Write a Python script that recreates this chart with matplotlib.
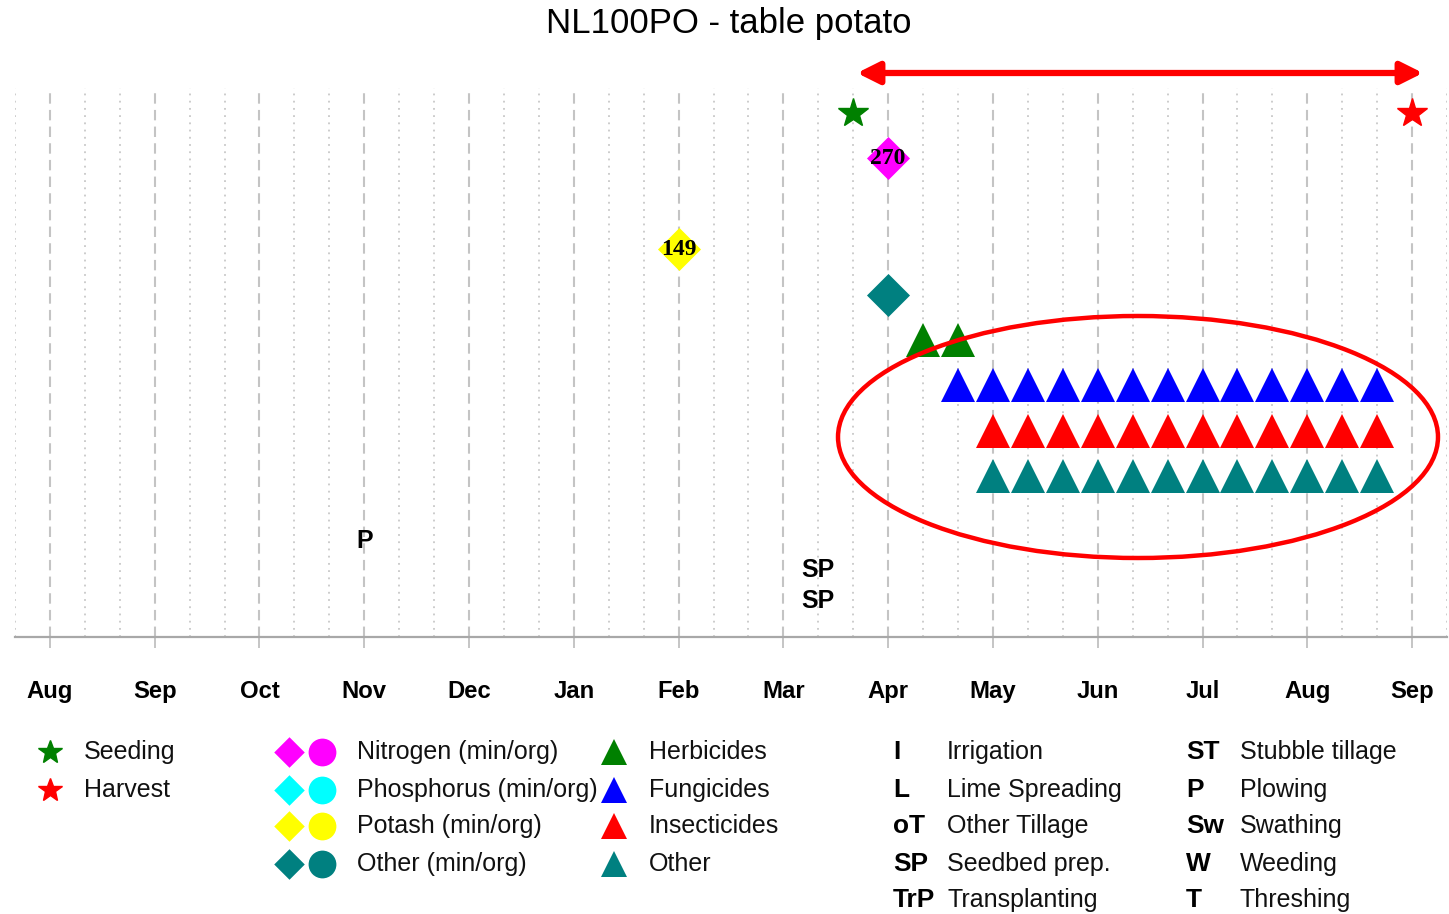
import matplotlib
matplotlib.use("Agg")
import matplotlib.pyplot as plt
from matplotlib import font_manager
from matplotlib.patches import Ellipse, FancyArrowPatch

W, H = 1449, 914

# ---- data -------------------------------------------------------------
# x axis is in decades (3 per month), month index 0 = Aug of the sowing year
months = ['Aug', 'Sep', 'Oct', 'Nov', 'Dec', 'Jan', 'Feb', 'Mar',
          'Apr', 'May', 'Jun', 'Jul', 'Aug', 'Sep']

# rows (top to bottom)
row_crop = 1
row_nitrogen = 2
row_potash = 4
row_other_fert = 5
row_herb = 6
row_fung = 7
row_insect = 8
row_other_pest = 9

seeding_x = [23]          # Mar, 3rd decade
harvest_x = [39]          # Sep, 1st decade
nitrogen_x = [24]
nitrogen_val = [270]
potash_x = [18]
potash_val = [149]
other_fert_x = [24]
herbicide_x = [25, 26]
fungicide_x = [26, 27, 28, 29, 30, 31, 32, 33, 34, 35, 36, 37, 38]
insecticide_x = [27, 28, 29, 30, 31, 32, 33, 34, 35, 36, 37, 38]
other_pest_x = [27, 28, 29, 30, 31, 32, 33, 34, 35, 36, 37, 38]

ops_label = ['P', 'SP', 'SP']
ops_x = [9, 22, 22]
ops_y = [10.43, 11.07, 11.75]

# ---- fonts ------------------------------------------------------------
names = {f.name for f in font_manager.fontManager.ttflist}
narrow = 'Liberation Sans Narrow' if 'Liberation Sans Narrow' in names else 'Liberation Sans'
nscale = 1.0 if narrow == 'Liberation Sans Narrow' else 0.82

GREEN, BLUE, RED, TEAL = '#008000', '#0000ff', '#ff0000', '#008080'
MAGENTA, CYAN, YELLOW = '#ff00ff', '#00ffff', '#ffff00'

diamond = [(0, 1), (1, 0), (0, -1), (-1, 0), (0, 1)]

fig = plt.figure(figsize=(W / 100, H / 100), dpi=100)
fig.patch.set_facecolor('white')

left, right, top, bottom = 15, 1447, 88, 637
ax = fig.add_axes([left / W, 1 - bottom / H, (right - left) / W, (bottom - top) / H])
ax.set_xlim(-1, 40)
ax.set_ylim(12.54, 0.45)

# grid: dashed at month starts, dotted at decades
for x in range(-1, 41):
    if x % 3 == 0:
        ax.axvline(x, color='#c4c4c4', lw=1.5, ls=(0, (5, 3)), zorder=0)
    else:
        ax.axvline(x, color='#c8c8c8', lw=1.3, ls=(0, (1, 3)), zorder=0)

for s in ['top', 'left', 'right']:
    ax.spines[s].set_visible(False)
ax.spines['bottom'].set_color('#a8a8a8')
ax.spines['bottom'].set_linewidth(1.6)
ax.set_yticks([])
ax.set_xticks([3 * i for i in range(len(months))])
ax.set_xticklabels(months, fontfamily=narrow, fontweight='bold', fontsize=21 * nscale)
ax.tick_params(axis='x', length=8, width=1.3, color='#c0c0c0', pad=23)

# crop events
ax.plot(seeding_x, [row_crop] * len(seeding_x), ls='none', marker='*', ms=22,
        color=GREEN, mec=GREEN, zorder=3)
ax.plot(harvest_x, [row_crop] * len(harvest_x), ls='none', marker='*', ms=22,
        color=RED, mec=RED, zorder=3)

# fertilisers
ax.plot(nitrogen_x, [row_nitrogen] * len(nitrogen_x), ls='none', marker=diamond,
        ms=31, color=MAGENTA, mec=MAGENTA, mew=0, zorder=3)
for x, v in zip(nitrogen_x, nitrogen_val):
    ax.text(x, row_nitrogen, str(v), ha='center', va='center', fontsize=17,
            fontfamily='Liberation Serif', fontweight='bold', zorder=4)
ax.plot(potash_x, [row_potash] * len(potash_x), ls='none', marker=diamond,
        ms=31, color=YELLOW, mec=YELLOW, mew=0, zorder=3)
for x, v in zip(potash_x, potash_val):
    ax.text(x, row_potash, str(v), ha='center', va='center', fontsize=17,
            fontfamily='Liberation Serif', fontweight='bold', zorder=4)
ax.plot(other_fert_x, [row_other_fert] * len(other_fert_x), ls='none', marker=diamond,
        ms=31, color=TEAL, mec=TEAL, mew=0, zorder=3)

# pesticides
ax.plot(herbicide_x, [row_herb] * len(herbicide_x), ls='none', marker='^', ms=25,
        color=GREEN, mec=GREEN, mew=0, zorder=3)
ax.plot(fungicide_x, [row_fung] * len(fungicide_x), ls='none', marker='^', ms=25,
        color=BLUE, mec=BLUE, mew=0, zorder=3)
ax.plot(insecticide_x, [row_insect] * len(insecticide_x), ls='none', marker='^', ms=25,
        color=RED, mec=RED, mew=0, zorder=3)
ax.plot(other_pest_x, [row_other_pest] * len(other_pest_x), ls='none', marker='^', ms=25,
        color=TEAL, mec=TEAL, mew=0, zorder=3)

# operations
for lab, x, y in zip(ops_label, ops_x, ops_y):
    ax.text(x, y, lab, ha='center', va='center', fontfamily=narrow,
            fontweight='bold', fontsize=22 * nscale, zorder=4)

# title
fig.text(729 / W, 1 - 23 / H, 'NL100PO - table potato', ha='center', va='center',
         fontfamily='Liberation Sans', fontsize=25)

# ---- overlay in pixel coordinates: legend and annotations --------------
ov = fig.add_axes([0, 0, 1, 1])
ov.set_xlim(0, W)
ov.set_ylim(H, 0)
ov.axis('off')
ov.patch.set_alpha(0)

txt = dict(fontfamily=narrow, fontsize=22 * nscale, va='center', ha='left', color='#111111')
code = dict(fontfamily=narrow, fontsize=23 * nscale, fontweight='bold', va='center', ha='left')

ov.plot([50], [752], marker='*', ms=18, color=GREEN, ls='none')
ov.plot([50], [790], marker='*', ms=18, color=RED, ls='none')
ov.text(84, 752, 'Seeding', **txt)
ov.text(84, 790, 'Harvest', **txt)

fert_rows = [752, 790, 826, 864]
fert_cols = [MAGENTA, CYAN, YELLOW, TEAL]
fert_names = ['Nitrogen (min/org)', 'Phosphorus (min/org)', 'Potash (min/org)', 'Other (min/org)']
for y, c, n in zip(fert_rows, fert_cols, fert_names):
    ov.plot([289], [y], marker=diamond, ms=22, color=c, mew=0, ls='none')
    ov.plot([322], [y], marker='o', ms=20, color=c, mew=0, ls='none')
    ov.text(357, y, n, **txt)

pest_cols = [GREEN, BLUE, RED, TEAL]
pest_names = ['Herbicides', 'Fungicides', 'Insecticides', 'Other']
for y, c, n in zip(fert_rows, pest_cols, pest_names):
    ov.plot([614], [y], marker='^', ms=19, color=c, mew=0, ls='none')
    ov.text(649, y, n, **txt)

op_rows = [752, 790, 826, 864, 900]
op_codes1 = ['I', 'L', 'oT', 'SP', 'TrP']
op_names1 = ['Irrigation', 'Lime Spreading', 'Other Tillage', 'Seedbed prep.', 'Transplanting']
op_codes2 = ['ST', 'P', 'Sw', 'W', 'T']
op_names2 = ['Stubble tillage', 'Plowing', 'Swathing', 'Weeding', 'Threshing']
for y, c, n in zip(op_rows, op_codes1, op_names1):
    ov.text(893, y, c, **code)
    ov.text(947, y, n, **txt)
for y, c, n in zip(op_rows, op_codes2, op_names2):
    ov.text(1186, y, c, **code)
    ov.text(1240, y, n, **txt)

# red highlight annotations
ov.add_patch(Ellipse((1138, 437), 600, 242, fill=False, ec=RED, lw=3.2, zorder=5))
ov.add_patch(FancyArrowPatch((857, 73), (1423, 73), arrowstyle='<|-|>', mutation_scale=33,
                             color=RED, lw=4.5, shrinkA=0, shrinkB=0, zorder=5))

fig.savefig('out.png', dpi=100)
